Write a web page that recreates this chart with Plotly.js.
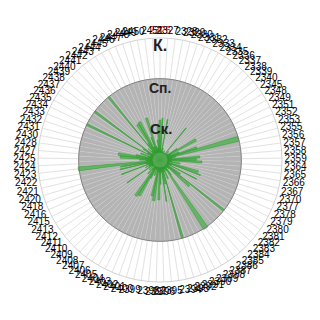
<!DOCTYPE html>
<html>
<head>
<meta charset="utf-8">
<script src="https://cdn.plot.ly/plotly-3.0.1.min.js"></script>
<style>html,body{margin:0;padding:0;background:#fff;}#chart{width:320px;height:320px;}</style>
</head>
<body>
<div id="chart"></div>
<script>
const categories = [
  "2325","2327","2328","2329","2330","2331","2332","2333","2334","2335",
  "2336","2337","2338","2339","2340","2345","2348","2349","2351","2352",
  "2353","2355","2356","2357","2358","2359","2364","2365","2366","2367",
  "2370","2377","2378","2379","2380","2381","2382","2383","2384","2385",
  "2386","2387","2388","2389","2390","2391","2392","2393","2394","2395",
  "2396","2397","2398","2399","2400","2401","2402","2403","2404","2405",
  "2406","2407","2408","2409","2410","2411","2412","2413","2415","2416",
  "2418","2420","2421","2422","2423","2424","2425","2427","2428","2430",
  "2431","2432","2433","2434","2435","2436","2437","2438","2439","2440",
  "2441","2442","2443","2444","2445","2446","2447","2448","2449","2450",
  "2451"
];
const highlighted = ["2325"];
const tickLabels = categories.map(c => highlighted.includes(c) ? '<span style="color:#cc2222">' + c + '</span>' : c);

// radial levels: Ск. = 1, Сп. = 2, К. = 3
const levelNames = ["Ск.", "Сп.", "К."];
const levelValues = [1, 2, 3];

// Сп. ring value for every category
const spValues = categories.map(() => 2);
// minimal Ск. level every category has
const baseValues = categories.map(() => 0.18);

// Ск. values per category
const skValues = [
  0.98,1.03,0.20,1.01,0.30,0.20,0.20,0.25,0.20,0.20,
  0.20,1.01,0.20,0.30,0.20,0.25,0.50,1.01,0.30,0.50,
  0.95,2.00,0.40,0.30,0.98,0.90,1.03,0.30,0.50,0.25,
  0.98,1.06,0.30,1.01,0.25,0.60,1.99,0.96,0.30,0.25,
  0.45,2.02,0.30,0.25,0.50,0.30,2.00,0.60,1.03,0.30,
  0.60,0.98,0.30,1.01,0.90,0.25,0.40,0.25,0.50,1.01,
  1.06,0.30,0.45,0.20,0.35,0.25,0.98,0.30,0.40,0.30,
  1.01,0.35,1.01,0.98,2.02,0.35,0.50,0.98,1.03,0.60,
  0.30,0.50,0.25,2.00,0.35,0.50,2.00,0.25,0.40,0.30,
  2.00,0.50,1.03,1.06,0.35,0.60,1.08,0.35,0.30,0.50,
  0.88
];
// angular width of each Ск. bar (in categories)
const skWidths = [
  0.8,0.35,0.8,0.35,0.8,0.8,0.35,0.8,0.35,0.8,
  0.35,0.35,0.8,0.35,0.8,0.35,0.8,1.0,0.35,0.8,
  0.8,1.0,0.35,0.8,0.8,0.8,0.8,0.35,0.8,0.35,
  0.8,0.35,0.8,0.35,0.8,0.8,0.35,0.8,0.35,0.8,
  0.35,1.0,0.8,0.35,0.8,0.35,0.35,0.8,0.35,0.8,
  0.35,0.8,0.35,1.0,0.8,0.35,0.8,0.35,0.8,1.0,
  1.0,0.35,0.8,0.35,0.8,0.35,0.35,0.8,0.35,0.8,
  0.35,0.8,0.35,0.35,0.8,0.35,0.8,1.0,1.0,0.8,
  0.35,0.8,0.35,0.35,0.8,0.35,0.35,0.8,0.35,0.8,
  0.35,0.8,1.0,1.0,0.8,0.35,0.8,0.35,0.8,0.35,
  0.8
];

const ringTheta = categories.concat([categories[0]]);
const ringR = spValues.concat([spValues[0]]);

const traces = [
  {
    type: 'barpolar', r: spValues, theta: categories, width: 1,
    marker: {color: '#b4b4b4', line: {color: 'rgba(205,205,205,0.7)', width: 0.5}},
    hoverinfo: 'skip', showlegend: false
  },
  {
    type: 'scatterpolar', mode: 'lines', r: ringR, theta: ringTheta,
    line: {color: '#7f7f7f', width: 1}, hoverinfo: 'skip', showlegend: false
  },
  {
    type: 'barpolar', r: skValues, theta: categories, width: skWidths,
    marker: {color: 'rgba(72,178,72,0.72)', line: {color: 'rgba(40,150,40,0.9)', width: 0.6}},
    showlegend: false
  },
  {
    type: 'barpolar', r: baseValues, theta: categories, width: 1,
    marker: {color: 'rgb(100,178,100)', line: {width: 0}},
    hoverinfo: 'skip', showlegend: false
  }
];

const annotations = levelNames.map((name, i) => ({
  text: '<b>' + name + '</b>', showarrow: false,
  xref: 'paper', yref: 'paper',
  x: [0.508, 0.5, 0.5][i], y: [0.631, 0.795, 0.971][i],
  xanchor: 'center', yanchor: 'middle',
  font: {family: 'Liberation Sans, Arial, sans-serif', size: [15, 14, 16][i], color: '#222'}
}));

const layout = {
  width: 320, height: 320,
  margin: {l: 38, r: 38, t: 38, b: 38},
  paper_bgcolor: '#fff',
  showlegend: false,
  annotations: annotations,
  polar: {
    barmode: 'overlay',
    bgcolor: '#fff',
    domain: {x: [0, 1], y: [0, 1]},
    radialaxis: {
      range: [0, 3], visible: false, tickvals: levelValues, ticktext: levelNames
    },
    angularaxis: {
      type: 'category', categoryorder: 'array', categoryarray: categories,
      direction: 'clockwise', rotation: 90,
      tickmode: 'array', tickvals: categories, ticktext: tickLabels,
      ticks: '', showline: true, linecolor: '#d2d2d2', linewidth: 1,
      showgrid: true, gridcolor: '#e2e2e2', gridwidth: 1,
      layer: 'below traces',
      tickfont: {family: 'Liberation Sans, Arial, sans-serif', size: 10, color: '#000'}
    }
  }
};

Plotly.newPlot('chart', traces, layout, {staticPlot: true, displayModeBar: false});
</script>
</body>
</html>
